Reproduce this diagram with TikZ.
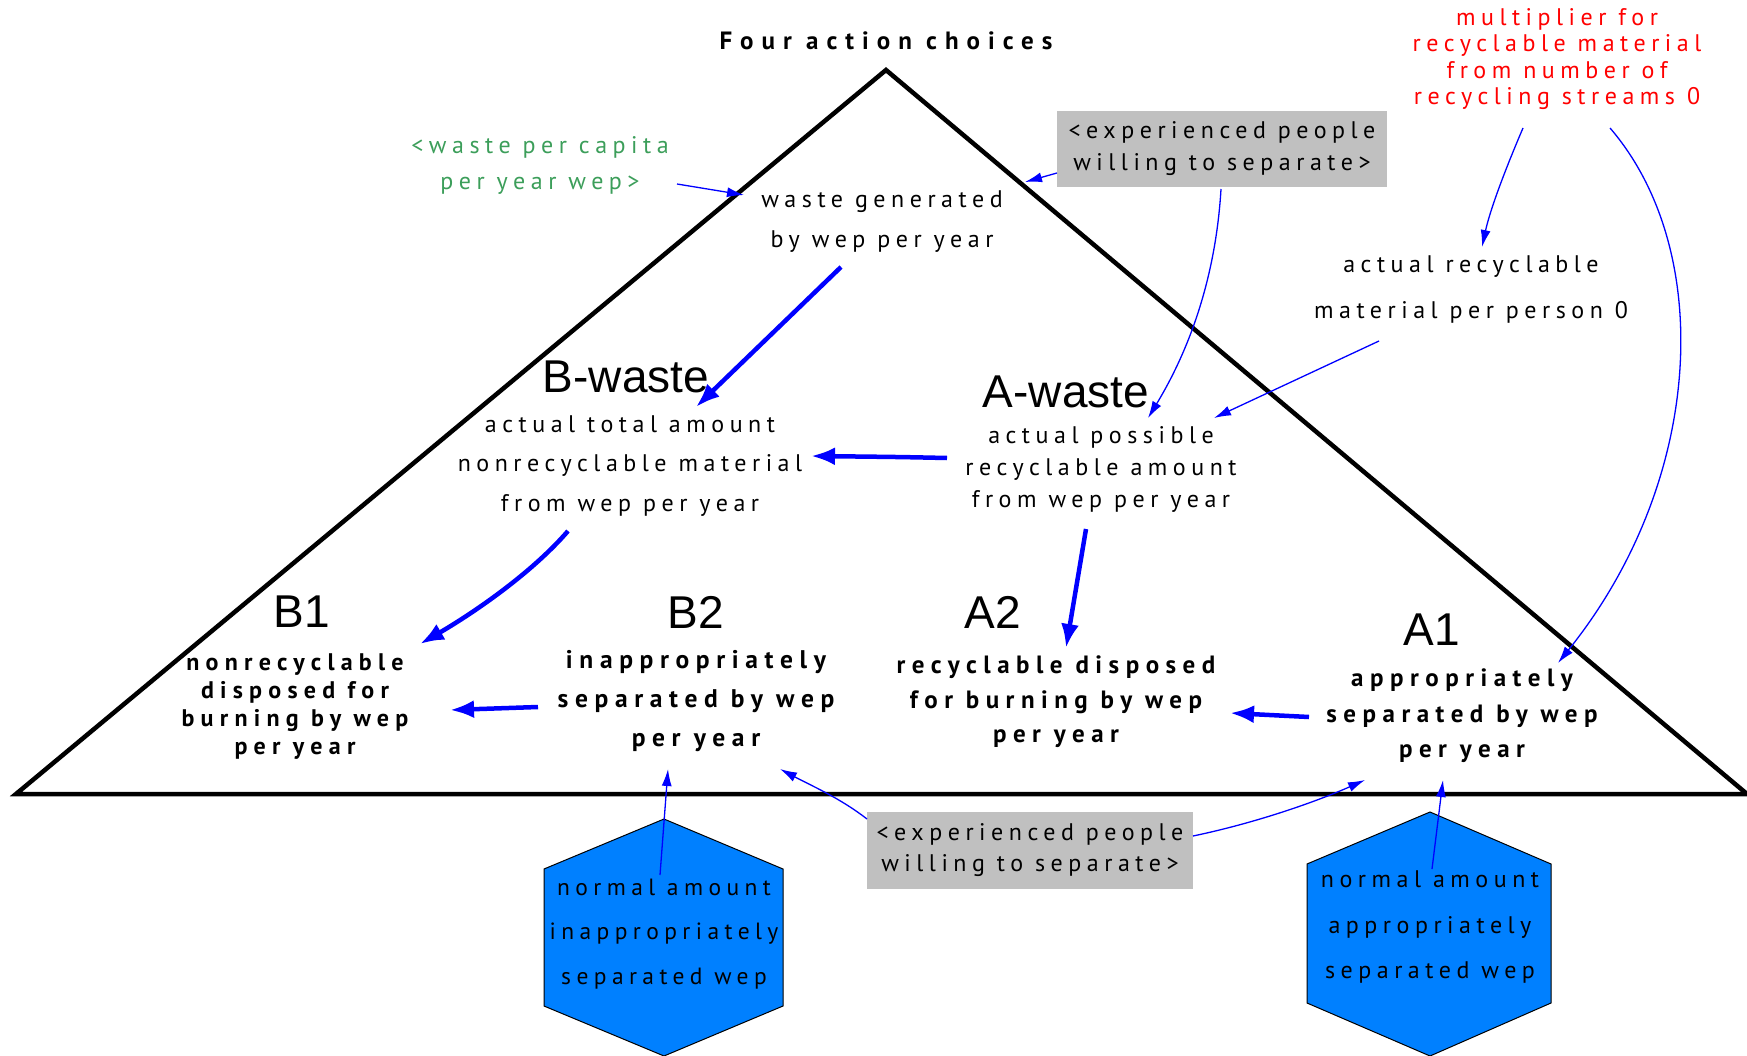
\documentclass[tikz,border=0pt]{standalone}
\usepackage{fontspec}
\usetikzlibrary{arrows.meta,calc}
\newfontfamily\tf[LetterSpace=23]{PT Sans}
\newfontfamily\tfb[LetterSpace=26]{PT Sans Bold}
\newfontfamily\tft[LetterSpace=32]{PT Sans Bold}
\newfontfamily\af{Liberation Sans}
\definecolor{wgreen}{RGB}{60,158,90}
\definecolor{boxgray}{RGB}{192,192,192}
\definecolor{hexblue}{RGB}{0,128,255}
\tikzset{
  txt/.style={align=center, inner sep=0pt},
  big/.style={inner sep=0pt, font=\af\fontsize{46}{50}\selectfont},
  thin/.style={draw=blue, line width=1.3pt, -{Latex[length=17pt,width=10pt]}},
  thick/.style={draw=blue, line width=4.5pt, -{Latex[length=24pt,width=18pt]}},
  graybox/.style={fill=boxgray, minimum width=330pt, minimum height=76pt, align=center, inner sep=0pt},
  hexshape/.style={fill=hexblue, draw=black, line width=1pt},
  tri/.style={draw=black, line width=4.5pt}
}
\begin{document}
\begin{tikzpicture}[x=1pt,y=-1pt]
\path[use as bounding box] (0,0) rectangle (1747,1056);

% triangle
\draw[tri, line join=miter] (886,70) -- (1747,794) -- (16,794) -- cycle;

% title
\node[txt, font=\tft\fontsize{25}{28}\selectfont] (title) at (886,41) {Four action choices};

% green input
\node[txt, text=wgreen, font=\tf\fontsize{24}{36}\selectfont] (wpc) at (540,165) {<waste per capita\\per year wep>};

% waste generated
\node[txt, font=\tf\fontsize{24}{40}\selectfont] (wg) at (882,222) {waste generated\\by wep per year};

% gray box top
\node[graybox, font=\tf\fontsize{24}{32}\selectfont] (exp1) at (1222,149) {<experienced people\\willing to separate>};

% red multiplier
\node[txt, text=red, font=\tf\fontsize{24}{26.5}\selectfont] (mult) at (1557,59) {multiplier for\\recyclable material\\from number of\\recycling streams 0};

% actual recyclable material
\node[txt, font=\tf\fontsize{24}{46}\selectfont] (arm) at (1471,290) {actual recyclable\\material per person 0};

% B-waste / A-waste
\node[big] (bwl) at (626,377) {B-waste};
\node[txt, font=\tf\fontsize{24}{39.5}\selectfont] (bwt) at (630,466) {actual total amount\\nonrecyclable material\\from wep per year};
\node[big] (awl) at (1066,392) {A-waste};
\node[txt, font=\tf\fontsize{24}{32}\selectfont] (awt) at (1101,469) {actual possible\\recyclable amount\\from wep per year};

% bottom four
\node[big] (b1l) at (302,612) {B1};
\node[txt, font=\tfb\fontsize{24}{28}\selectfont] (b1t) at (295,707) {nonrecyclable\\disposed for\\burning by wep\\per year};
\node[big] (b2l) at (696,612) {B2};
\node[txt, font=\tfb\fontsize{25.5}{39}\selectfont] (b2t) at (696,701) {inappropriately\\separated by wep\\per year};
\node[big] (a2l) at (993,612) {A2};
\node[txt, font=\tfb\fontsize{25}{34.5}\selectfont] (a2t) at (1056,702) {recyclable disposed\\for burning by wep\\per year};
\node[big] (a1l) at (1432,630) {A1};
\node[txt, font=\tfb\fontsize{25}{35.5}\selectfont] (a1t) at (1462,716) {appropriately\\separated by wep\\per year};

% gray box bottom
\node[graybox, minimum width=326pt, minimum height=77pt, font=\tf\fontsize{24}{31}\selectfont] (exp2) at (1030,850) {<experienced people\\willing to separate>};

% hexagons
\draw[hexshape] (664,819) -- (783,869) -- (783,1006) -- (664,1056) -- (544,1006) -- (544,869) -- cycle;
\node[txt, font=\tf\fontsize{23.5}{44.5}\selectfont] (hex1) at (664,934) {normal amount\\inappropriately\\separated wep};
\draw[hexshape] (1430,812) -- (1551,864) -- (1551,1003) -- (1430,1056) -- (1307,1003) -- (1307,864) -- cycle;
\node[txt, font=\tf\fontsize{24}{45.5}\selectfont] (hex2) at (1430,927) {normal amount\\appropriately\\separated wep};

\coordinate (triedge) at (1025,182);

% thin connectors
\draw[thin] ([shift={(137,19)}]wpc.center) -- ([shift={(-138,-27)}]wg.center);
\draw[thin] ([shift={(-165,24)}]exp1.center) -- (triedge);
\draw[thin] ([shift={(-1,40)}]exp1.center) .. controls (1215,290) and (1182,362) .. ([shift={(47,-51)}]awt.center);
\draw[thin] ([shift={(-34,69)}]mult.center) .. controls (1505,170) and (1490,210) .. ([shift={(11,-43)}]arm.center);
\draw[thin] ([shift={(53,69)}]mult.center) .. controls (1715,250) and (1705,480) .. ([shift={(96,-53)}]a1t.center);
\draw[thin] ([shift={(-92,51)}]arm.center) -- ([shift={(113,-51)}]awt.center);
\draw[thin] ([shift={(-163,-31)}]exp2.center) .. controls (840,798) and (810,785) .. ([shift={(84,68)}]b2t.center);
\draw[thin] ([shift={(163,-14)}]exp2.center) .. controls (1260,822) and (1320,800) .. ([shift={(-97,64)}]a1t.center);
\draw[thin] ([shift={(-4,-59)}]hex1.center) -- ([shift={(-28,68)}]b2t.center);
\draw[thin] ([shift={(2,-58)}]hex2.center) -- ([shift={(-19,64)}]a1t.center);

% thick connectors
\draw[thick] ([shift={(-41,45)}]wg.center) -- ([shift={(66,-59)}]bwt.center);
\draw[thick] ([shift={(-154,-11)}]awt.center) .. controls (900,457) .. ([shift={(181,-10)}]bwt.center);
\draw[thick] ([shift={(-62,65)}]bwt.center) .. controls (530,575) and (470,615) .. ([shift={(125,-63)}]b1t.center);
\draw[thick] ([shift={(-15,60)}]awt.center) -- ([shift={(10,-54)}]a2t.center);
\draw[thick] ([shift={(-158,6)}]b2t.center) -- ([shift={(155,3)}]b1t.center);
\draw[thick] ([shift={(-153,1)}]a1t.center) -- ([shift={(174,11)}]a2t.center);
\end{tikzpicture}
\end{document}
